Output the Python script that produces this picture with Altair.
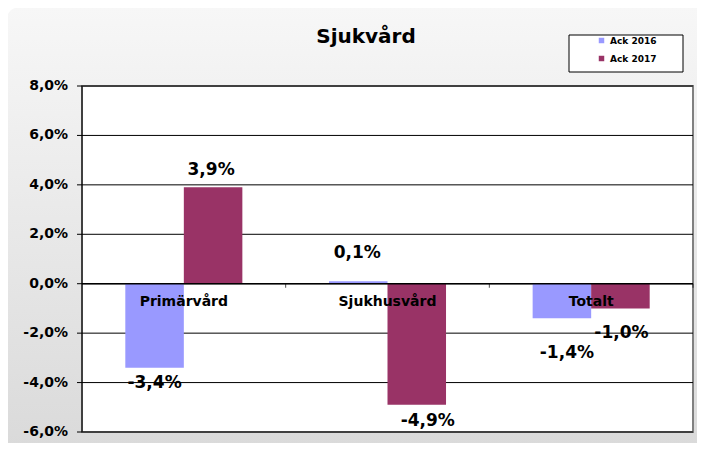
import altair as alt
import pandas as pd

# ---- data ----
categories = ["Primärvård", "Sjukhusvård", "Totalt"]
series = ["Ack 2016", "Ack 2017"]
ack_2016 = [-3.4, 0.1, -1.4]
ack_2017 = [3.9, -4.9, -1.0]
y_ticks = [-6, -4, -2, 0, 2, 4, 6, 8]
colors = ["#9999FF", "#993366"]
chart_title = "Sjukvård"


def pct(v):
    return f"{v:.1f}".replace(".", ",") + "%"


rows = []
for i, c in enumerate(categories):
    rows.append({"cat": c, "series": series[0], "value": ack_2016[i]})
    rows.append({"cat": c, "series": series[1], "value": ack_2017[i]})
df = pd.DataFrame(rows)
df["label"] = [pct(v) for v in df["value"]]

ticks_df = pd.DataFrame({"t": y_ticks, "lab": [pct(t) for t in y_ticks]})
cats_df = pd.DataFrame({"cat": categories, "zero": [0] * len(categories)})

# ---- layout / style ----
W, H = 611, 346
FONT = "DejaVu Sans"

x_scale = alt.Scale(domain=categories, paddingInner=0, paddingOuter=0)
xo_scale = alt.Scale(domain=series, paddingInner=0, paddingOuter=0.74)
y_scale = alt.Scale(domain=[-6, 8], nice=False, zero=False)

one = alt.Data(values=[{"k": 0}])

background = alt.Chart(one).mark_rect(
    fill=alt.Gradient(
        gradient="linear",
        stops=[alt.GradientStop(color="#f7f7f7", offset=0),
               alt.GradientStop(color="#d9d9d9", offset=1)],
        x1=0, x2=0, y1=0, y2=1,
    ),
    cornerRadius=14,
).encode(x=alt.value(-76), x2=alt.value(W + 40), y=alt.value(-79), y2=alt.value(H + 30))

plot_bg = alt.Chart(one).mark_rect(fill="white", stroke="#808080", strokeWidth=2).encode(
    x=alt.value(0), x2=alt.value(W), y=alt.value(0), y2=alt.value(H)
)

grid = alt.Chart(ticks_df).mark_rule(color="black", strokeWidth=1).encode(
    y=alt.Y("t:Q", scale=y_scale, axis=None)
)

y_tick_marks = alt.Chart(ticks_df).mark_rule(color="black", strokeWidth=1).encode(
    x=alt.value(-5), x2=alt.value(0), y=alt.Y("t:Q", scale=y_scale, axis=None)
)

y_labels = alt.Chart(ticks_df).mark_text(
    font=FONT, fontSize=14, fontWeight="bold", color="black",
    align="right", baseline="middle",
).encode(x=alt.value(-14), y=alt.Y("t:Q", scale=y_scale, axis=None), text="lab:N")

legend_box = alt.Chart(one).mark_rect(fill="white", stroke="black", strokeWidth=1).encode(
    x=alt.value(487), x2=alt.value(601), y=alt.value(-51), y2=alt.value(-14)
)

title = alt.Chart(one).mark_text(
    text=chart_title, font=FONT, fontSize=20, fontWeight="bold", color="black",
    align="center", baseline="middle",
).encode(x=alt.value(284), y=alt.value(-49))

bars = alt.Chart(df).mark_bar().encode(
    x=alt.X("cat:N", scale=x_scale, axis=None, sort=categories),
    xOffset=alt.XOffset("series:N", scale=xo_scale, sort=series),
    y=alt.Y("value:Q", scale=y_scale, axis=None),
    color=alt.Color(
        "series:N", scale=alt.Scale(domain=series, range=colors),
        legend=alt.Legend(
            orient="none", legendX=515, legendY=-50, title=None,
            symbolType="square", symbolSize=30, symbolStrokeWidth=0,
            labelFont=FONT, labelFontWeight="bold", labelFontSize=9,
            labelColor="black", labelOffset=4, rowPadding=8, padding=0,
        ),
    ),
)

# axis lines drawn over the bars
y_domain = alt.Chart(one).mark_rule(color="black", strokeWidth=1).encode(
    x=alt.value(0), y=alt.value(0), y2=alt.value(H)
)
zero_line = alt.Chart(cats_df).mark_rule(color="black", strokeWidth=1).encode(
    y=alt.Y("zero:Q", scale=y_scale, axis=None)
)
cat_ticks = alt.Chart(cats_df).mark_tick(
    color="black", thickness=1, size=4, orient="vertical", yOffset=2
).encode(
    x=alt.X("cat:N", scale=x_scale, axis=None, sort=categories, bandPosition=1),
    y=alt.Y("zero:Q", scale=y_scale, axis=None),
)
cat_labels = alt.Chart(cats_df).mark_text(
    font=FONT, fontSize=14, fontWeight="bold", color="black",
    align="center", baseline="middle", dy=18,
).encode(
    x=alt.X("cat:N", scale=x_scale, axis=None, sort=categories),
    y=alt.Y("zero:Q", scale=y_scale, axis=None),
    text="cat:N",
)

nudges = {
    ("Primärvård", "Ack 2016"): (0, 15),
    ("Primärvård", "Ack 2017"): (-2, -17),
    ("Sjukhusvård", "Ack 2016"): (-1, -28),
    ("Sjukhusvård", "Ack 2017"): (11, 16),
    ("Totalt", "Ack 2016"): (5, 35),
    ("Totalt", "Ack 2017"): (1, 25),
}

label_layers = []
for (c, s), (ddx, ddy) in nudges.items():
    label_layers.append(
        alt.Chart(df).transform_filter(
            f"datum.cat == '{c}' && datum.series == '{s}'"
        ).mark_text(
            dx=ddx, dy=ddy, font=FONT, fontSize=17, fontWeight="bold",
            color="black", align="center", baseline="middle",
        ).encode(
            x=alt.X("cat:N", scale=x_scale, axis=None, sort=categories),
            xOffset=alt.XOffset("series:N", scale=xo_scale, sort=series),
            y=alt.Y("value:Q", scale=y_scale, axis=None),
            text="label:N",
        )
    )

chart = alt.layer(
    background, plot_bg, grid, legend_box, title, bars,
    y_domain, y_tick_marks, y_labels, zero_line, cat_ticks, cat_labels,
    *label_layers
).properties(
    width=W, height=H,
    autosize=alt.AutoSizeParams(type="none"),
    padding={"left": 74, "top": 78, "right": 4, "bottom": 11},
    background="white",
).configure_view(strokeWidth=0)

chart.save("out.html", embed_options={"renderer": "svg", "actions": False})
